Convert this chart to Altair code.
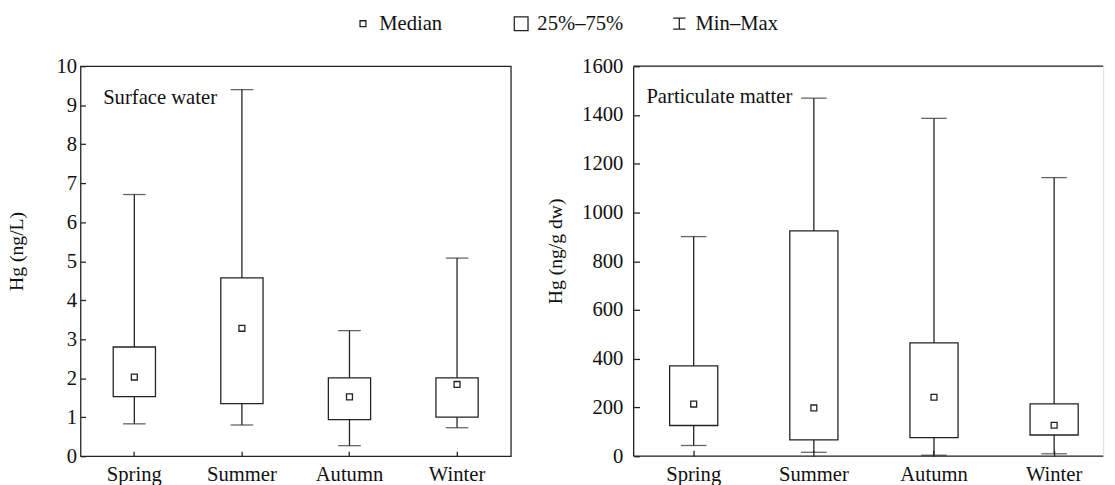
import altair as alt
import pandas as pd

seasons = ["Spring", "Summer", "Autumn", "Winter"]

# Surface water Hg (ng/L)
sw_min = [0.83, 0.80, 0.27, 0.73]
sw_q1 = [1.53, 1.35, 0.94, 1.00]
sw_med = [2.03, 3.28, 1.52, 1.84]
sw_q3 = [2.80, 4.57, 2.01, 2.01]
sw_max = [6.71, 9.40, 3.22, 5.08]

# Particulate matter Hg (ng/g dw)
pm_min = [44, 16, 4, 10]
pm_q1 = [126, 67, 76, 87]
pm_med = [214, 198, 242, 127]
pm_q3 = [371, 924, 465, 215]
pm_max = [901, 1469, 1386, 1143]

legend_items = ["Median", "25%\u201375%", "Min\u2013Max"]

FONT = "Liberation Serif"
LINE = "#222222"
TXT = "#111111"
SW = 1.3

shape_paths = [
    "M-0.43,-0.43H0.43V0.43H-0.43Z",
    "M-1,-1H1V1H-1Z",
    "M-0.9,-0.8H0.9M0,-0.8V0.8M-0.9,0.8H0.9",
]


def panel(mins, q1s, meds, q3s, maxs, ymax, ystep, ytitle, label, W, H,
          xrange, box_w, cap_w, tick, ylab_pad, title_pad, label_x, label_y,
          with_legend, frame_rules):
    df = pd.DataFrame({
        "season": seasons, "min": mins, "q1": q1s, "med": meds,
        "q3": q3s, "max": maxs, "kind": [legend_items[0]] * 4,
    })
    sc = dict(domain=seasons, paddingInner=0, paddingOuter=0)
    if xrange is not None:
        sc["range"] = xrange
    xaxis = alt.Axis(title=None, labelAngle=0, domain=False, grid=False,
                     tickSize=tick, offset=-tick, tickColor=LINE,
                     tickWidth=SW, bandPosition=0.5, labelPadding=8,
                     labelFont=FONT, labelFontSize=21, labelColor=TXT)
    x = alt.X("season:N", sort=seasons, scale=alt.Scale(**sc), axis=xaxis)
    yvals = list(range(0, ymax + 1, ystep))
    yscale = alt.Scale(domain=[0, ymax], nice=False, zero=True)
    yaxis = alt.Axis(title=ytitle, values=yvals, tickCount=len(yvals),
                     domain=False, grid=False,
                     tickSize=tick, offset=-tick, tickColor=LINE, tickWidth=SW,
                     labelPadding=ylab_pad, labelFont=FONT, labelFontSize=21,
                     labelColor=TXT, labelOverlap=False, titleFont=FONT,
                     titleFontSize=20, titleFontWeight="normal",
                     titleColor=TXT, titlePadding=title_pad, titleY=188,
                     format="d")

    def Y(f):
        return alt.Y(f, scale=yscale, axis=yaxis)

    base = alt.Chart(df)
    whisk = base.mark_rule(color=LINE, strokeWidth=SW).encode(
        x=x, y=Y("min:Q"), y2="max:Q")
    cap_lo = base.mark_tick(color=LINE, thickness=SW, size=cap_w).encode(
        x=x, y=Y("min:Q"))
    cap_hi = base.mark_tick(color=LINE, thickness=SW, size=cap_w).encode(
        x=x, y=Y("max:Q"))
    box = base.mark_bar(size=box_w, fill="white", stroke=LINE,
                        strokeWidth=SW).encode(x=x, y=Y("q1:Q"), y2="q3:Q")
    shape_kw = dict(scale=alt.Scale(domain=legend_items, range=shape_paths))
    if with_legend:
        shape_kw["legend"] = alt.Legend(
            title=None, orient="none", direction="horizontal",
            legendX=277, legendY=-54, gridAlign="all", columnPadding=46,
            labelOffset=6, labelFont=FONT, labelFontSize=21, labelColor=TXT,
            symbolSize=196, symbolStrokeColor=LINE, symbolStrokeWidth=SW,
            symbolFillColor="transparent")
    med = base.mark_point(filled=False, color=LINE, strokeWidth=SW, size=196,
                          opacity=1).encode(
        x=x, y=Y("med:Q"), shape=alt.Shape("kind:N", **shape_kw))
    txt = alt.Chart(alt.Data(values=[{"t": label}])).mark_text(
        align="left", baseline="alphabetic", font=FONT, fontSize=21,
        color=TXT).encode(x=alt.value(label_x), y=alt.value(label_y),
                          text="t:N")
    layers = [whisk, cap_lo, cap_hi, box, med, txt]
    one = alt.Data(values=[{"a": 1}])
    if frame_rules:
        fr = dict(color=LINE, strokeWidth=SW)
        layers += [
            alt.Chart(one).mark_rule(**fr).encode(
                x=alt.value(0), x2=alt.value(W), y=alt.value(0)),
            alt.Chart(one).mark_rule(**fr).encode(
                x=alt.value(0), x2=alt.value(W), y=alt.value(H)),
            alt.Chart(one).mark_rule(**fr).encode(
                x=alt.value(0), y=alt.value(0), y2=alt.value(H)),
        ]
    ch = alt.layer(*layers).properties(width=W, height=H)
    if not frame_rules:
        ch = ch.properties(view=alt.ViewBackground(stroke=LINE,
                                                   strokeWidth=SW))
    return ch


left = panel(sw_min, sw_q1, sw_med, sw_q3, sw_max, 10, 1, "Hg (ng/L)",
             "Surface water", 438, 397, None, 43, 23, 5, 4, 30, 23, 38,
             True, False)
right = panel(pm_min, pm_q1, pm_med, pm_q3, pm_max, 1600, 200,
              "Hg (ng/g dw)", "Particulate matter", 478, 397, [0, 489.2],
              49, 26, 6, 11, 16, 13, 37, False, True)

chart = alt.hconcat(left, right, spacing=34).properties(
    padding={"left": 6, "top": 9, "right": 0, "bottom": 0}
).configure_view(stroke="transparent").configure_axis(
    labelFont=FONT, titleFont=FONT, labelOverlap=False
).configure_text(font=FONT).configure(background="white")

chart.save("out.html", embed_options={"renderer": "svg", "actions": False})
